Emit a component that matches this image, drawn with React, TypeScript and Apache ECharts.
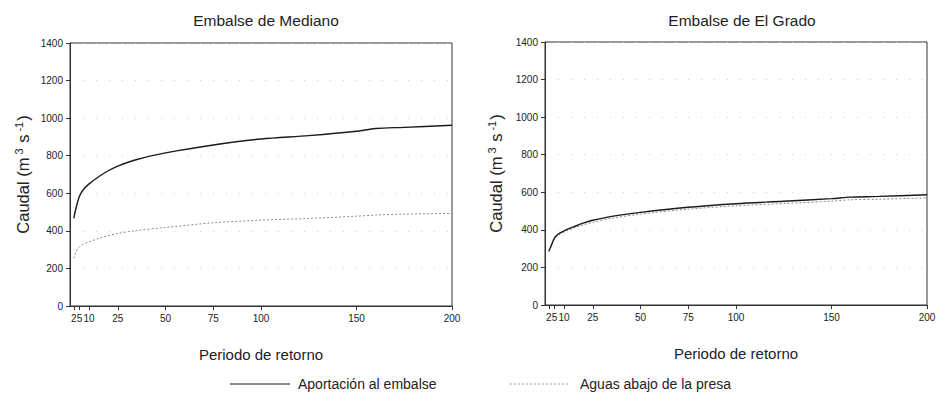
import React, { useEffect, useRef } from "react";
import * as echarts from "echarts";

const retorno = [2, 3, 5, 7, 10, 15, 20, 25, 35, 50, 75, 100, 125, 150, 160, 175, 200];
const tickValues = [2, 5, 10, 25, 50, 75, 100, 150, 200];
const medianoAportacion = [466, 515, 585, 620, 650, 688, 720, 745, 780, 815, 857, 889, 907, 930, 945, 951, 962];
const medianoAbajo = [253, 285, 315, 330, 342, 360, 374, 386, 402, 418, 443, 457, 466, 478, 484, 489, 493];
const gradoAportacion = [286, 310, 357, 378, 395, 416, 436, 451, 472, 493, 520, 539, 552, 566, 574, 578, 587];
const gradoAbajo = [284, 306, 350, 372, 389, 409, 426, 440, 462, 484, 510, 528, 540, 553, 560, 563, 570];

const titles = ["Embalse de Mediano", "Embalse de El Grado"];
const serieNames = ["Aportación al embalse", "Aguas abajo de la presa"];

const FONT = "Liberation Sans, Arial, sans-serif";

export default function App() {
  const ref = useRef<HTMLDivElement>(null);
  useEffect(() => {
    if (!ref.current) return;
    const chart = echarts.init(ref.current, undefined, { renderer: "svg" });
    const pair = (xs: number[], ys: number[]) => xs.map((x, i) => [x, ys[i]]);
    const grids = [
      { left: 70, right: 492, top: 43, bottom: 94 },
      { left: 545, right: 17, top: 42, bottom: 95 },
    ];
    const xAxis = grids.map((_, i) => ({
      type: "value",
      gridIndex: i,
      min: 0,
      max: 200,
      name: "Periodo de retorno",
      nameLocation: "middle",
      nameGap: 41,
      nameTextStyle: { fontSize: 15, color: "#222", fontFamily: FONT },
      axisLine: { show: true, lineStyle: { color: "#333", width: 1 } },
      axisTick: { show: true, length: 4, customValues: tickValues, lineStyle: { color: "#333" } },
      axisLabel: { customValues: tickValues, fontSize: 10, color: "#222", margin: 7, fontFamily: FONT },
      splitLine: { show: false },
    }));
    const yAxis = grids.map((_, i) => ({
      type: "value",
      gridIndex: i,
      min: 0,
      max: 1400,
      interval: 200,
      name: "Caudal (m{s|3} s{s|-1})",
      nameLocation: "middle",
      nameGap: i === 0 ? 37 : 39,
      nameTextStyle: {
        fontSize: 16.5,
        color: "#222",
        fontFamily: FONT,
        lineHeight: 20,
        rich: { s: { fontSize: 11, lineHeight: 11, verticalAlign: "top", color: "#222", fontFamily: FONT, padding: [0, 1, 0, 3] } },
      },
      axisLine: { show: true, lineStyle: { color: "#333", width: 1 } },
      axisTick: { show: true, length: 4, lineStyle: { color: "#333" } },
      axisLabel: { fontSize: 10, color: "#222", margin: 7, fontFamily: FONT, formatter: (v: number) => String(v) },
      splitLine: { show: true, lineStyle: { color: "#cfcfcf", type: [1, 12], width: 1 } },
    }));
    const data = [
      [medianoAportacion, medianoAbajo],
      [gradoAportacion, gradoAbajo],
    ];
    const series: any[] = [];
    data.forEach((d, i) => {
      series.push({
        type: "line",
        name: serieNames[0],
        xAxisIndex: i,
        yAxisIndex: i,
        data: pair(retorno, d[0]),
        smooth: 0.3,
        symbol: "none",
        lineStyle: { color: "#1a1a1a", width: 1.4 },
        z: 3,
      });
      series.push({
        type: "line",
        name: serieNames[1],
        xAxisIndex: i,
        yAxisIndex: i,
        data: pair(retorno, d[1]),
        smooth: 0.3,
        symbol: "none",
        lineStyle: { color: "#8a8a8a", width: 1, type: [2, 2] },
        z: 2,
      });
    });
    const legendY = 384;
    chart.setOption({
      animation: false,
      backgroundColor: "#ffffff",
      title: titles.map((t, i) => ({
        text: t,
        left: i === 0 ? 261 : 737,
        top: 7,
        textAlign: "center",
        textStyle: { fontSize: 15.5, fontWeight: "normal", color: "#222", fontFamily: FONT },
      })),
      grid: grids.map((g) => ({ ...g, show: true, borderColor: "#333", borderWidth: 1, backgroundColor: "transparent" })),
      xAxis,
      yAxis,
      graphic: [
        { type: "line", shape: { x1: 230, y1: legendY, x2: 290, y2: legendY }, style: { stroke: "#1a1a1a", lineWidth: 1 } },
        { type: "text", x: 298, y: legendY, style: { text: serieNames[0], fontSize: 14, fill: "#222", fontFamily: FONT, verticalAlign: "middle" } },
        { type: "line", shape: { x1: 510, y1: legendY, x2: 570, y2: legendY }, style: { stroke: "#9a9a9a", lineWidth: 1, lineDash: [2, 2] } },
        { type: "text", x: 580, y: legendY, style: { text: serieNames[1], fontSize: 14, fill: "#222", fontFamily: FONT, verticalAlign: "middle" } },
      ],
      series,
    });
    return () => chart.dispose();
  }, []);
  return <div ref={ref} style={{ position: "fixed", left: 0, top: 0, width: 944, height: 400 }} />;
}
